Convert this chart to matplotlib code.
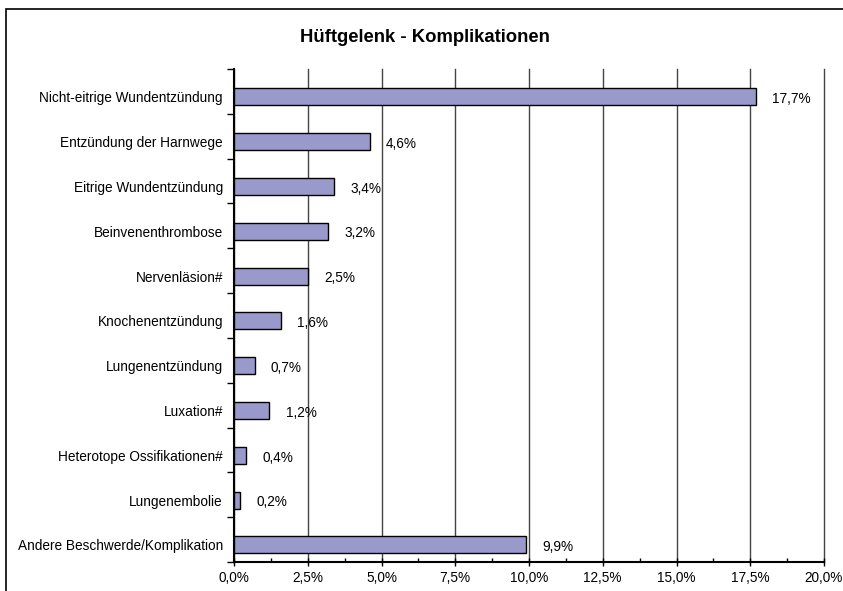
import matplotlib
matplotlib.use("Agg")
import matplotlib.pyplot as plt
from matplotlib.patches import Rectangle
from matplotlib.ticker import MultipleLocator, FuncFormatter

plt.rcParams['font.family'] = ['Liberation Sans', 'DejaVu Sans']

categories = [
    "Nicht-eitrige Wundentzündung",
    "Entzündung der Harnwege",
    "Eitrige Wundentzündung",
    "Beinvenenthrombose",
    "Nervenläsion#",
    "Knochenentzündung",
    "Lungenentzündung",
    "Luxation#",
    "Heterotope Ossifikationen#",
    "Lungenembolie",
    "Andere Beschwerde/Komplikation",
]
values = [17.7, 4.6, 3.4, 3.2, 2.5, 1.6, 0.7, 1.2, 0.4, 0.2, 9.9]
title = "Hüftgelenk - Komplikationen"

fig = plt.figure(figsize=(8.43, 5.91), dpi=100)
ax = fig.add_axes([234 / 843, 1 - 562 / 591, 590 / 843, 493 / 591])

# outer frame of the chart
fig.patches.append(Rectangle((6 / 843, -0.02), 1.0, 1 - 9 / 591 + 0.02,
                             transform=fig.transFigure, fill=False,
                             edgecolor='black', linewidth=1.2))

pos = [i + 0.12 for i in range(len(categories))]
ax.barh(pos, values, height=0.38, color='#9999cc', edgecolor='black',
        linewidth=1.0, zorder=3)

for p, v in zip(pos, values):
    ax.text(v + 0.55, p + 0.05, f"{v:.1f}%".replace('.', ','),
            va='center', ha='left', fontsize=9.8)

ax.set_xlim(0, 20)
ax.set_ylim(len(categories) - 0.5, -0.5)

ax.xaxis.set_major_locator(MultipleLocator(2.5))
ax.xaxis.set_minor_locator(MultipleLocator(1.25))
ax.xaxis.set_major_formatter(FuncFormatter(lambda x, _: f"{x:.1f}%".replace('.', ',')))
ax.tick_params(axis='x', which='major', direction='inout', length=6, labelsize=9.8, width=1)
ax.tick_params(axis='x', which='minor', direction='in', length=3, width=1)

ax.set_yticks(pos)
ax.set_yticklabels(categories)
ax.set_yticks([i - 0.5 for i in range(len(categories) + 1)], minor=True)
ax.tick_params(axis='y', which='major', length=0, labelsize=9.8, pad=8)
ax.tick_params(axis='y', which='minor', direction='out', length=5, width=1)

ax.grid(axis='x', which='major', color='#444444', linewidth=1, zorder=0)
for gl in ax.get_xgridlines():
    gl.set_clip_on(False)
ax.spines['top'].set_visible(False)
ax.spines['right'].set_visible(False)
ax.spines['left'].set_linewidth(1.5)
ax.spines['bottom'].set_linewidth(1.5)

fig.text(0.504, 1 - 37 / 591, title, ha='center', va='center',
         fontsize=13.3, fontweight='bold')

fig.savefig("out.png", dpi=100)
